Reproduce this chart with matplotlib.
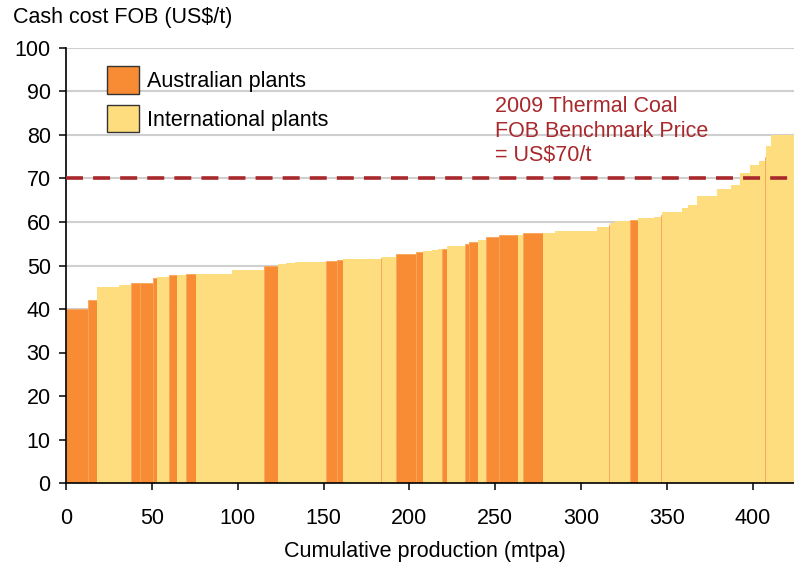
import matplotlib.pyplot as plt
from matplotlib.patches import Patch
import numpy as np

plt.rcParams['font.family'] = ['Liberation Sans', 'DejaVu Sans']

# production of each plant (mtpa), cash cost (US$/t) and origin, sorted by cost
production = [13.0, 4.9, 13.2, 6.8, 5.2, 7.5, 2.3, 6.8, 5.2, 5.1,
              5.8, 20.8, 18.9, 8.1, 4.7, 5.2, 18.1, 6.2, 3.5, 12.1,
              10.0, 0.6, 8.4, 11.7, 3.9, 5.2, 3.7, 2.3, 2.8, 10.1,
              2.5, 5.2, 5.1, 7.2, 10.9, 2.9, 11.7, 7.1, 6.2, 18.5,
              6.9, 0.6, 2.8, 8.8, 4.9, 9.1, 4.0, 0.6, 11.9, 3.1,
              5.6, 11.4, 8.1, 5.4, 5.7, 5.6, 3.1, 0.5, 3.2, 14.0]
cost = [40.0, 42.0, 45.1, 45.5, 45.9, 45.9, 47.2, 47.4, 47.8, 47.9,
        48.0, 48.0, 49.0, 50.0, 50.3, 50.6, 50.9, 51.1, 51.3, 51.5,
        51.6, 51.7, 52.0, 52.6, 53.1, 53.3, 53.6, 53.8, 53.8, 54.5,
        54.9, 55.4, 55.8, 56.6, 56.9, 57.0, 57.4, 57.4, 57.9, 58.0,
        58.8, 59.2, 59.7, 60.2, 60.5, 60.9, 61.1, 61.5, 62.4, 63.2,
        64.0, 66.0, 67.6, 68.5, 71.3, 73.0, 74.0, 75.0, 77.5, 80.0]
origin = ['A', 'A', 'I', 'I', 'A', 'A', 'A', 'I', 'A', 'I',
          'A', 'I', 'I', 'A', 'I', 'I', 'I', 'A', 'A', 'I',
          'I', 'A', 'I', 'A', 'A', 'I', 'I', 'I', 'A', 'I',
          'A', 'A', 'I', 'A', 'A', 'I', 'A', 'I', 'I', 'I',
          'I', 'A', 'I', 'I', 'A', 'I', 'I', 'A', 'I', 'I',
          'I', 'I', 'I', 'I', 'I', 'I', 'I', 'A', 'I', 'I']

benchmark = 70
aus_color = '#f78c35'
int_color = '#fedd7f'
red = '#a8282c'

widths = np.array(production)
lefts = np.concatenate([[0], np.cumsum(widths)[:-1]])

fig = plt.figure(figsize=(7.94, 5.68), dpi=100)
ax = fig.add_axes([66 / 794, 85 / 568, 728 / 794, 435 / 568])

for l, w, c, o in zip(lefts, widths, cost, origin):
    if o == 'A':
        ax.bar(l, c, width=w, align='edge', color=aus_color,
               edgecolor='#f9a457', linewidth=0.6, zorder=2)
    else:
        ax.bar(l, c, width=w, align='edge', color=int_color,
               linewidth=0, zorder=2)

ax.axhline(benchmark, color=red, lw=2.6, dashes=(4.7, 2.8), zorder=4)
ax.text(250, 80.9, '2009 Thermal Coal\nFOB Benchmark Price\n= US$70/t',
        color=red, fontsize=15.5, ha='left', va='center', linespacing=1.22)

ax.set_xlim(0, 424)
ax.set_ylim(0, 100)
ax.set_yticks(np.arange(0, 101, 10))
ax.set_xticks(np.arange(0, 401, 50))
ax.yaxis.grid(True, color='#cfcfcf', lw=1.5, zorder=0)
ax.set_axisbelow(True)
for s in ['top', 'right']:
    ax.spines[s].set_visible(False)
ax.spines['left'].set_linewidth(1.2)
ax.spines['bottom'].set_linewidth(1.2)
ax.tick_params(axis='both', labelsize=15.5, length=5, width=1.1)
ax.tick_params(axis='x', pad=13)
ax.tick_params(axis='y', pad=6)

handles = [Patch(facecolor=aus_color, edgecolor='#333333', lw=1, label='Australian plants'),
           Patch(facecolor=int_color, edgecolor='#333333', lw=1, label='International plants')]
ax.legend(handles=handles, loc='upper left', bbox_to_anchor=(0.056, 0.958),
          frameon=False, fontsize=15.5, handlelength=1.5, handleheight=1.6,
          handletextpad=0.38, labelspacing=0.5, borderpad=0, borderaxespad=0)

fig.text(13 / 794, 1 - 18 / 568, 'Cash cost FOB (US$/t)', fontsize=15.5,
         ha='left', va='center')
fig.text(425 / 794, 1 - 552 / 568, 'Cumulative production (mtpa)', fontsize=15.5,
         ha='center', va='center')

fig.savefig('out.png', dpi=100)
